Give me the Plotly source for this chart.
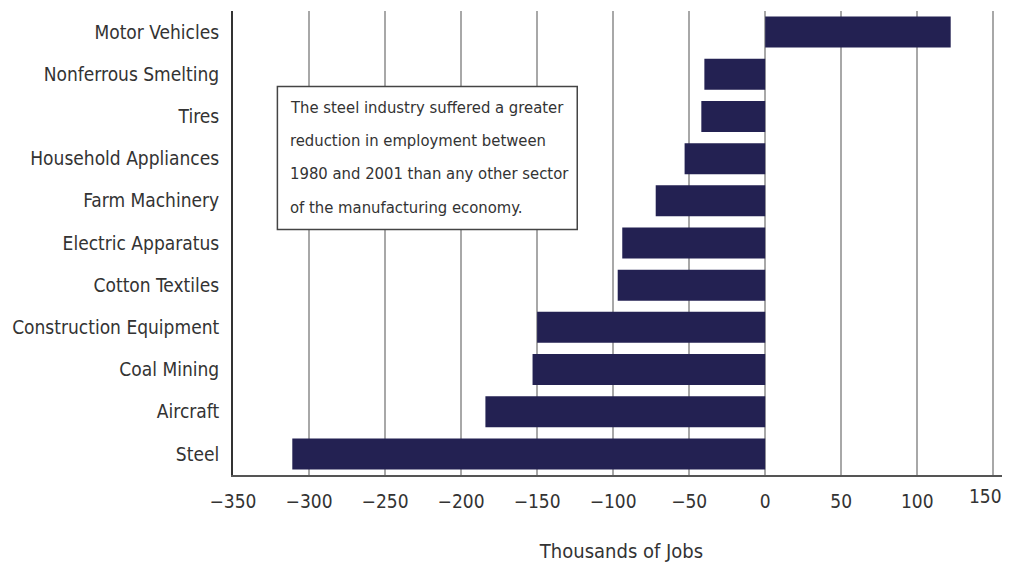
import plotly.graph_objects as go

categories = ["Motor Vehicles", "Nonferrous Smelting", "Tires", "Household Appliances",
              "Farm Machinery", "Electric Apparatus", "Cotton Textiles",
              "Construction Equipment", "Coal Mining", "Aircraft", "Steel"]
values = [122, -40, -42, -53, -72, -94, -97, -150, -153, -184, -311]
x_ticks = [-350, -300, -250, -200, -150, -100, -50, 0, 50, 100, 150]
x_tick_labels = ["−350", "−300", "−250", "−200", "−150", "−100", "−50", "0", "50", "100", "150"]
note_lines = ["The steel industry suffered a greater",
              "reduction in employment between",
              "1980 and 2001 than any other sector",
              "of the manufacturing economy."]

FONT = "DejaVu Sans Condensed, DejaVu Sans, sans-serif"
TXT = "#333333"

fig = go.Figure(go.Bar(
    x=values, y=categories, orientation="h",
    marker=dict(color="#232152", line=dict(width=0)),
    hoverinfo="x+y",
))

# last tick label is drawn as an annotation so it is not cut at the page edge
axis_ticktext = x_tick_labels[:-1] + [""]

fig.update_layout(
    width=1002, height=555,
    margin=dict(l=225, r=0, t=3, b=88),
    plot_bgcolor="white", paper_bgcolor="white",
    bargap=0.265,
    showlegend=False,
    font=dict(family=FONT, size=19, color=TXT),
    xaxis=dict(
        range=[-350, 161], tickvals=x_ticks, ticktext=axis_ticktext, automargin=False,
        showgrid=True, gridcolor="#a8a8a8", gridwidth=1.5,
        zeroline=False, showline=True, linecolor="#555555", linewidth=2,
        ticks="", ticklabelstandoff=8, tickfont=dict(size=19, color=TXT),
        title=dict(text="Thousands of Jobs", font=dict(size=20, color=TXT), standoff=39),
    ),
    yaxis=dict(
        range=[10.5, -0.5], type="category", automargin=False,
        showgrid=False, zeroline=False, showline=True,
        linecolor="#333333", linewidth=2,
        ticks="", ticklabelstandoff=8, tickfont=dict(size=19, color=TXT),
    ),
)

fig.add_annotation(x=x_ticks[-1], y=0, xref="x", yref="paper", text=x_tick_labels[-1],
                   showarrow=False, xanchor="center", yanchor="top", xshift=-8, yshift=-8,
                   font=dict(family=FONT, size=19, color=TXT))

# note box
fig.add_shape(type="rect", xref="x", yref="y",
              x0=-320.8, x1=-123.6, y0=1.29, y1=4.68,
              line=dict(color="#444444", width=1.5), fillcolor="white", layer="above")
line_y = [1.79, 2.57, 3.35, 4.16]
for t, yy in zip(note_lines, line_y):
    fig.add_annotation(x=-314, y=yy, xref="x", yref="y", text=t, showarrow=False,
                       xanchor="left", yanchor="middle",
                       font=dict(family=FONT, size=16.5, color=TXT))

fig.write_html("out.html")
